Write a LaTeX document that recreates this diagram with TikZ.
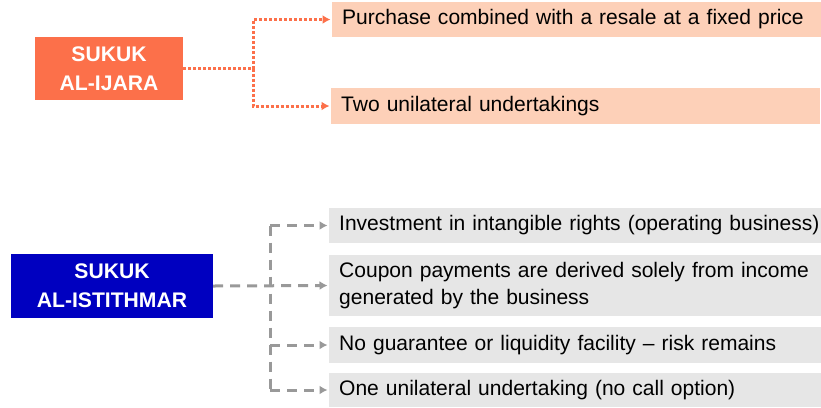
\documentclass[tikz,border=0pt]{standalone}
\usepackage{fontspec}
\setmainfont{Liberation Sans}
\usetikzlibrary{arrows.meta}

\definecolor{ijara}{HTML}{FC704A}
\definecolor{ijaralight}{HTML}{FDD0B8}
\definecolor{istithmar}{HTML}{0000C0}
\definecolor{greybox}{HTML}{E6E6E6}
\definecolor{greyline}{HTML}{999999}

\begin{document}
\begin{tikzpicture}[
  x=1bp, y=-1bp,
  headbox/.style={text=white, align=center, inner sep=0pt,
    font=\bfseries\fontsize{21.2}{29}\selectfont},
  itembox/.style={anchor=west, align=left, inner xsep=10bp, inner ysep=0pt,
    font=\fontsize{21.1}{27}\selectfont},
  ijitem/.style={itembox, fill=ijaralight, text width=469bp},
  isitem/.style={itembox, fill=greybox, text width=472bp},
  ijline/.style={ijara, line width=3bp, dash pattern=on 3bp off 2bp},
  isline/.style={greyline, line width=3bp, dash pattern=on 10bp off 7bp},
  tip/.style={-{Latex[length=8bp,width=9bp]}, shorten >=1.5bp}
]
\useasboundingbox (0,0) rectangle (821,407);

% sukuk al-ijara
\node [headbox, fill=ijara, minimum width=148bp, minimum height=63bp] (ija) at (109,68.5) {SUKUK\\AL-IJARA};
\node [ijitem, minimum height=35bp] (ija1) at (332,19.5) {Purchase combined with a resale at a fixed price};
\node [ijitem, minimum height=36bp] (ija2) at (331,106) {Two unilateral undertakings};

\coordinate (ijaj) at (253,68.5);
\draw [ijline] (ija.east) -- (ijaj);
\draw [ijline, tip] (ijaj) |- (ija1.west);
\draw [ijline, tip] (ijaj) |- (ija2.west);

% sukuk al-istithmar
\node [headbox, fill=istithmar, minimum width=202bp, minimum height=64bp] (ist) at (112,286) {SUKUK\\AL-ISTITHMAR};
\node [isitem, minimum height=35bp] (ist1) at (329,225.5) {\mbox{Investment in intangible rights (operating business)}};
\node [isitem, minimum height=61bp] (ist2) at (329,285.5) {Coupon payments are derived solely from income\\generated by the business};
\node [isitem, minimum height=36bp] (ist3) at (329,345) {No guarantee or liquidity facility -- risk remains};
\node [isitem, minimum height=34bp] (ist4) at (329,390) {One unilateral undertaking (no call option)};

\coordinate (istj) at (270,286);
\draw [isline] (istj |- ist1.west) -- (istj |- ist4.west);
\draw [isline, tip] (ist.east) -- (ist2.west);
\draw [isline, tip] (istj |- ist1.west) -- (ist1.west);
\draw [isline, tip] (istj |- ist3.west) -- (ist3.west);
\draw [isline, tip] (istj |- ist4.west) -- (ist4.west);
\end{tikzpicture}
\end{document}
